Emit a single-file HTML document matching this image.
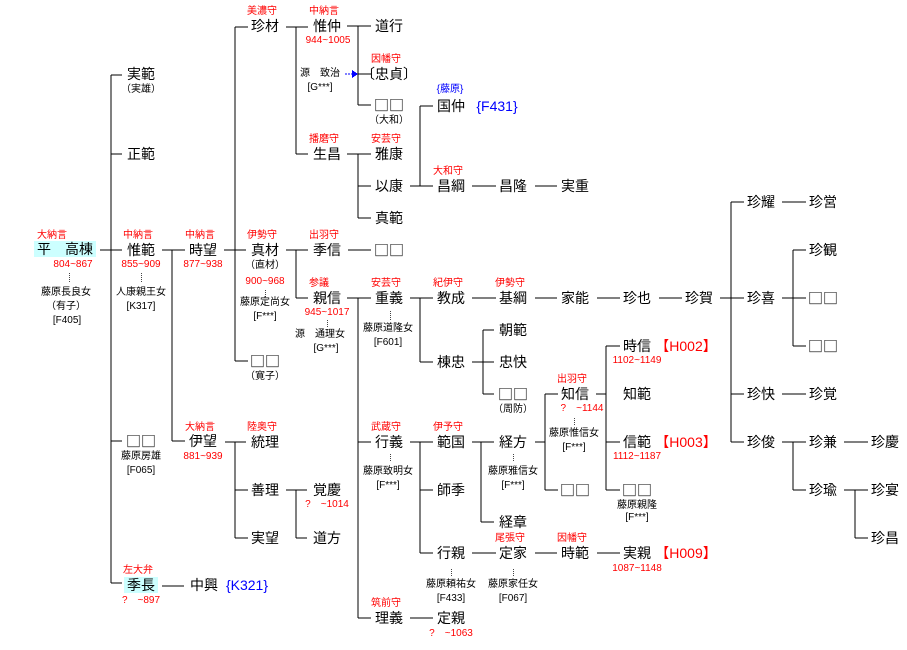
<!DOCTYPE html>
<html><head><meta charset="utf-8"><style>
body{margin:0;background:#fff;}
#c{position:relative;width:907px;height:650px;overflow:hidden;font-family:"Liberation Sans","Noto Sans CJK JP",sans-serif;color:#000;}
#c i{position:absolute;font-style:normal;white-space:nowrap;transform:translate(-50%,-50%);line-height:1;}
.n{font-size:14px;}
.s{font-size:10px;}
.r{font-size:10px;color:#f00;}
.b{color:#00f;}
.h{background:#ccffff;padding:1px 3px;}
#c .q{font-family:"Noto Sans CJK JP",sans-serif;font-size:15px;letter-spacing:0px;}
svg{position:absolute;left:0;top:0;}
</style></head><body><div id="c">
<svg width="907" height="650" stroke="#000" stroke-width="1" fill="none" shape-rendering="crispEdges">
<path d="M100 250H122M111 75V583M111 75H122M111 154H122M111 441H122M111 583H122"/>
<path d="M162 250H185M172 250V441M172 441H185M162 586H184"/>
<path d="M224 250H246M235 27V361M235 27H248M235 361H248M225 442H246M235 442V538M235 490H248M235 538H248"/>
<path d="M286 490H307M296 490V538M296 538H307"/>
<path d="M286 27H308M296 27V154M296 154H308M286 250H308M296 250V298M296 298H308"/>
<path d="M347 26H371M358 26V105M358 74H371M358 105H371M347 154H371M358 154V218M358 186H371M358 218H371"/>
<path d="M410 186H433M420 106V186M420 106H433M472 186H496M535 186H557"/>
<path d="M348 250H371M347 298H371M358 298V618M358 442H371M358 618H371"/>
<path d="M410 298H433M420 298V362M420 362H433M472 298H496M535 298H557M597 298H620M659 298H682M720 298H744M731 202V442M731 202H744M731 394H744M731 442H744"/>
<path d="M782 202H806M782 298H806M793 250V346M793 250H806M793 346H806M782 394H806M782 442H806M793 442V490M793 490H806M844 442H868M844 490H868M855 490V538M855 538H868"/>
<path d="M472 362H494M483 330V394M483 330H494M483 394H494"/>
<path d="M410 442H433M420 442V553M420 490H433M420 553H433M472 442H494M481 442V522M481 522H494"/>
<path d="M535 442H545M545 394V490M545 394H558M545 490H558M596 394H606M606 346V490M606 346H620M606 442H620M606 490H620"/>
<path d="M472 553H496M535 553H557M597 553H620M410 618H433"/>
<g stroke-dasharray="1,1" stroke="#444">
<path d="M69.5 273V283M141.5 273V283M265.5 290V298M327.5 320V328M390.5 311V320M390.5 454V462M451.5 569V577M513.5 569V577M513.5 454V462M574.5 418V426"/>
</g>
<path d="M345 74H352" stroke="#00f" stroke-dasharray="2,1"/>
<polygon points="352,70 358,74 352,78" fill="#00f" stroke="none"/>
</svg>

<i class="n h" style="left:65px;top:249px">平　高棟</i>
<i class="r" style="left:52px;top:236px">大納言</i>
<i class="r" style="left:73px;top:265px">804~867</i>
<i class="s" style="left:66px;top:293px">藤原長良女</i>
<i class="s" style="left:66px;top:307px">（有子）</i>
<i class="s" style="left:67px;top:321px">[F405]</i>

<i class="n" style="left:141px;top:74px">実範</i>
<i class="s" style="left:141px;top:90px">（実雄）</i>
<i class="n" style="left:141px;top:154px">正範</i>
<i class="r" style="left:138px;top:236px">中納言</i>
<i class="n" style="left:141px;top:250px">惟範</i>
<i class="r" style="left:141px;top:265px">855~909</i>
<i class="s" style="left:141px;top:293px">人康親王女</i>
<i class="s" style="left:141px;top:307px">[K317]</i>
<i class="n q" style="left:141px;top:441px">□□</i>
<i class="s" style="left:141px;top:457px">藤原房雄</i>
<i class="s" style="left:141px;top:471px">[F065]</i>
<i class="r" style="left:138px;top:571px">左大弁</i>
<i class="n h" style="left:141px;top:585px">季長</i>
<i class="r" style="left:141px;top:601px">?　~897</i>
<i class="n" style="left:204px;top:585px">中興</i>
<i class="n b" style="left:247px;top:585px">{K321}</i>

<i class="r" style="left:200px;top:236px">中納言</i>
<i class="n" style="left:203px;top:250px">時望</i>
<i class="r" style="left:203px;top:265px">877~938</i>
<i class="r" style="left:200px;top:428px">大納言</i>
<i class="n" style="left:203px;top:441px">伊望</i>
<i class="r" style="left:203px;top:457px">881~939</i>

<i class="r" style="left:262px;top:12px">美濃守</i>
<i class="n" style="left:265px;top:26px">珍材</i>
<i class="r" style="left:262px;top:236px">伊勢守</i>
<i class="n" style="left:265px;top:250px">真材</i>
<i class="s" style="left:265px;top:266px">（直材）</i>
<i class="r" style="left:265px;top:282px">900~968</i>
<i class="s" style="left:265px;top:303px">藤原定尚女</i>
<i class="s" style="left:265px;top:317px">[F***]</i>
<i class="n q" style="left:265px;top:361px">□□</i>
<i class="s" style="left:265px;top:377px">（寛子）</i>
<i class="r" style="left:262px;top:428px">陸奥守</i>
<i class="n" style="left:265px;top:442px">統理</i>
<i class="n" style="left:265px;top:490px">善理</i>
<i class="n" style="left:265px;top:538px">実望</i>
<i class="n" style="left:327px;top:490px">覚慶</i>
<i class="r" style="left:327px;top:505px">?　~1014</i>
<i class="n" style="left:327px;top:538px">道方</i>

<i class="r" style="left:324px;top:12px">中納言</i>
<i class="n" style="left:327px;top:26px">惟仲</i>
<i class="r" style="left:328px;top:41px">944~1005</i>
<i class="s" style="left:320px;top:74px">源　致治</i>
<i class="s" style="left:320px;top:88px">[G***]</i>
<i class="r" style="left:324px;top:140px">播磨守</i>
<i class="n" style="left:327px;top:154px">生昌</i>
<i class="r" style="left:324px;top:236px">出羽守</i>
<i class="n" style="left:327px;top:250px">季信</i>
<i class="r" style="left:319px;top:284px">参議</i>
<i class="n" style="left:327px;top:298px">親信</i>
<i class="r" style="left:327px;top:313px">945~1017</i>
<i class="s" style="left:320px;top:335px">源　通理女</i>
<i class="s" style="left:326px;top:349px">[G***]</i>

<i class="n" style="left:389px;top:26px">道行</i>
<i class="r" style="left:386px;top:60px">因幡守</i>
<i class="n" style="left:389px;top:74px">〔忠貞〕</i>
<i class="n q" style="left:389px;top:105px">□□</i>
<i class="s" style="left:389px;top:121px">（大和）</i>
<i class="r" style="left:386px;top:140px">安芸守</i>
<i class="n" style="left:389px;top:154px">雅康</i>
<i class="n" style="left:389px;top:186px">以康</i>
<i class="n" style="left:389px;top:218px">真範</i>
<i class="n q" style="left:389px;top:250px">□□</i>
<i class="r" style="left:386px;top:284px">安芸守</i>
<i class="n" style="left:389px;top:298px">重義</i>
<i class="s" style="left:388px;top:329px">藤原道隆女</i>
<i class="s" style="left:388px;top:343px">[F601]</i>
<i class="r" style="left:386px;top:428px">武蔵守</i>
<i class="n" style="left:389px;top:442px">行義</i>
<i class="s" style="left:388px;top:472px">藤原致明女</i>
<i class="s" style="left:388px;top:486px">[F***]</i>
<i class="r" style="left:386px;top:604px">筑前守</i>
<i class="n" style="left:389px;top:618px">理義</i>

<i class="s b" style="left:450px;top:90px">{藤原}</i>
<i class="n" style="left:451px;top:106px">国仲</i>
<i class="n b" style="left:497px;top:106px">{F431}</i>
<i class="r" style="left:448px;top:172px">大和守</i>
<i class="n" style="left:451px;top:186px">昌綱</i>
<i class="n" style="left:513px;top:186px">昌隆</i>
<i class="n" style="left:575px;top:186px">実重</i>
<i class="r" style="left:448px;top:284px">紀伊守</i>
<i class="n" style="left:451px;top:298px">教成</i>
<i class="n" style="left:451px;top:362px">棟忠</i>
<i class="r" style="left:448px;top:428px">伊予守</i>
<i class="n" style="left:451px;top:442px">範国</i>
<i class="n" style="left:451px;top:490px">師季</i>
<i class="n" style="left:451px;top:553px">行親</i>
<i class="s" style="left:451px;top:585px">藤原頼祐女</i>
<i class="s" style="left:451px;top:599px">[F433]</i>
<i class="n" style="left:451px;top:618px">定親</i>
<i class="r" style="left:451px;top:634px">?　~1063</i>

<i class="r" style="left:510px;top:284px">伊勢守</i>
<i class="n" style="left:513px;top:298px">基綱</i>
<i class="n" style="left:513px;top:330px">朝範</i>
<i class="n" style="left:513px;top:362px">忠快</i>
<i class="n q" style="left:513px;top:394px">□□</i>
<i class="s" style="left:513px;top:410px">（周防）</i>
<i class="n" style="left:513px;top:442px">経方</i>
<i class="s" style="left:513px;top:472px">藤原雅信女</i>
<i class="s" style="left:513px;top:486px">[F***]</i>
<i class="n" style="left:513px;top:522px">経章</i>
<i class="r" style="left:510px;top:539px">尾張守</i>
<i class="n" style="left:513px;top:553px">定家</i>
<i class="s" style="left:513px;top:585px">藤原家任女</i>
<i class="s" style="left:513px;top:599px">[F067]</i>

<i class="n" style="left:575px;top:298px">家能</i>
<i class="r" style="left:572px;top:380px">出羽守</i>
<i class="n" style="left:575px;top:394px">知信</i>
<i class="r" style="left:582px;top:409px">?　~1144</i>
<i class="s" style="left:574px;top:434px">藤原惟信女</i>
<i class="s" style="left:574px;top:448px">[F***]</i>
<i class="n q" style="left:575px;top:490px">□□</i>
<i class="r" style="left:572px;top:539px">因幡守</i>
<i class="n" style="left:575px;top:553px">時範</i>

<i class="n" style="left:637px;top:298px">珍也</i>
<i class="n" style="left:637px;top:346px">時信</i>
<i class="n" style="left:686px;top:346px;color:#f00">【H002】</i>
<i class="r" style="left:637px;top:361px">1102~1149</i>
<i class="n" style="left:637px;top:394px">知範</i>
<i class="n" style="left:637px;top:442px">信範</i>
<i class="n" style="left:686px;top:442px;color:#f00">【H003】</i>
<i class="r" style="left:637px;top:457px">1112~1187</i>
<i class="n q" style="left:637px;top:490px">□□</i>
<i class="s" style="left:637px;top:506px">藤原親隆</i>
<i class="s" style="left:637px;top:518px">[F***]</i>
<i class="n" style="left:637px;top:553px">実親</i>
<i class="n" style="left:686px;top:553px;color:#f00">【H009】</i>
<i class="r" style="left:637px;top:569px">1087~1148</i>

<i class="n" style="left:699px;top:298px">珍賀</i>
<i class="n" style="left:761px;top:202px">珍耀</i>
<i class="n" style="left:761px;top:298px">珍喜</i>
<i class="n" style="left:761px;top:394px">珍快</i>
<i class="n" style="left:761px;top:442px">珍俊</i>
<i class="n" style="left:823px;top:202px">珍営</i>
<i class="n" style="left:823px;top:250px">珍観</i>
<i class="n q" style="left:823px;top:298px">□□</i>
<i class="n q" style="left:823px;top:346px">□□</i>
<i class="n" style="left:823px;top:394px">珍覚</i>
<i class="n" style="left:823px;top:442px">珍兼</i>
<i class="n" style="left:823px;top:490px">珍瑜</i>
<i class="n" style="left:885px;top:442px">珍慶</i>
<i class="n" style="left:885px;top:490px">珍宴</i>
<i class="n" style="left:885px;top:538px">珍昌</i>
</div></body></html>
